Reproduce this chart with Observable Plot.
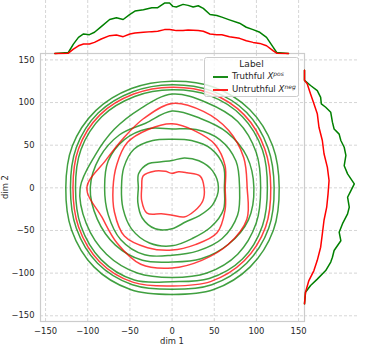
<!DOCTYPE html>
<html><head><meta charset="utf-8">
<script src="https://cdn.jsdelivr.net/npm/d3@7"></script>
<script src="https://cdn.jsdelivr.net/npm/@observablehq/plot@0.6"></script>
<style>
body{margin:0;background:#fff;font-family:"DejaVu Sans",sans-serif;}
#wrap{position:relative;width:366px;height:347px;overflow:hidden;background:#fff;}
#wrap svg{position:absolute;}
.txt{position:absolute;font-size:8.4px;color:#262626;white-space:nowrap;line-height:1;}
#legend{position:absolute;left:204px;top:57px;width:95px;height:40px;box-sizing:border-box;border:1px solid #cccccc;border-radius:2.5px;background:rgba(255,255,255,0.8);}
#legend .sw{position:absolute;left:8px;width:15px;height:2px;}
#legend .et{position:absolute;left:27px;font-size:8.6px;color:#262626;white-space:nowrap;line-height:1;}
#legend sup{font-size:6px;font-style:italic;vertical-align:3px;line-height:0;}
</style></head><body>
<div id="wrap">
  <div id="legend">
    <div class="et" style="left:0;width:93px;text-align:center;top:2px;font-size:9px;">Label</div>
    <div class="sw" style="top:18px;background:#1a8c1a;"></div>
    <div class="et" style="top:14px;">Truthful <i>X</i><sup>pos</sup></div>
    <div class="sw" style="top:31px;background:#ff2020;"></div>
    <div class="et" style="top:27px;">Untruthful <i>X</i><sup>neg</sup></div>
  </div>
</div>
<script>
// ---- data ----
const xTicks = [-150, -100, -50, 0, 50, 100, 150];
const yTicks = [-150, -100, -50, 0, 50, 100, 150];
const xLabel = "dim 1";
const yLabel = "dim 2";
const seriesNames = ["Truthful", "Untruthful"];

// contour rings: radius at each angle (degrees, counter-clockwise from +dim 1)
const angles = [0, 22.5, 45, 67.5, 90, 112.5, 135, 157.5, 180, 202.5, 225, 247.5, 270, 292.5, 315, 337.5];
const truthfulRings = [
  [127, 129, 130, 128, 125, 126, 128, 128, 126, 129, 131, 129, 125, 129, 131, 130],
  [121, 123, 125, 123, 121, 122, 124, 123, 120.5, 123, 125, 123, 119, 123, 125, 124],
  [113, 116, 118, 117, 115, 116, 118, 117, 114.5, 117, 119, 117, 110, 115, 118, 116],
  [105, 108, 110, 108, 110, 100, 97, 99, 109, 110, 110, 108, 105, 108, 110, 108],
  [97, 96, 92, 88, 90, 82, 88, 93, 97, 96, 95, 92, 87, 90, 94, 98],
  [80, 82, 80, 74, 69, 75, 80, 82, 80, 82, 86, 85, 79, 80, 84, 84],
  [62, 66, 65, 60, 57, 60, 64, 62, 60, 63, 68, 70, 68, 64, 65, 66],
  [55, 52, 45, 38, 32, 33, 40, 43, 40, 44, 50, 52, 48, 43, 46, 52]
];
const untruthfulRings = [
  [117, 119, 121, 120, 118, 119, 121, 120, 117.5, 120, 122, 120, 115, 119, 121, 120],
  [89, 92, 95, 97, 99, 88, 82, 85, 101, 90, 92, 97, 94, 92, 94, 96],
  [63, 68, 72, 72, 75, 74, 75, 71, 70, 74, 80, 76, 73, 72, 75, 68],
  [38, 36, 25, 20.5, 17, 21, 28, 37, 36, 39, 42, 33, 32, 37, 38, 39.5]
];

// top marginal density (scaled)
const margX = [-139,-123,-117,-111,-105,-98,-92,-84,-74,-66,-58,-50,-44,-34,-24,-17,-9,-3,1,5,13,19,25,31,37,45,53,59,68,80,88,96,104,112,120,124,138];
const margXTruthful = [0,3,28,48,58,56,63,80,101,106,101,116,126,130,136,136,150,150,140,138,146,143,138,142,134,116,113,108,100,90,78,71,63,48,18,3,0];
const margXUntruthful = [0,1,13,23,28,28,33,43,53,55,50,58,61,63,65,66,71,71,70,68,68,70,69,68,66,58,56,56,50,45,38,33,30,23,8,1,0];

// right marginal density (scaled)
const margYTruthfulY = [138,126,120,114,106,98.5,94.5,88.6,77,69,63,55.5,47.6,38,26,16.4,4.7,-3.2,-11,-22.7,-30.5,-42,-52,-62,-73.5,-81.4,-87,-97,-107,-114.5,-122.4,-136];
const margYTruthful = [0,0,18,38,48,50,63,78,83,88,103,108,118,123,118,128,148,138,128,133,128,113,103,108,88,83,78,63,38,18,3,0];
const margYUntruthfulY = [138,126,122,110,98.5,87,71,55.5,40,24,8.6,-7,-22.7,-38,-54,-69.6,-85,-97,-108.7,-122.4,-136];
const margYUntruthful = [0,0,8,18,28,38,43,53,58,68,73,70,66,58,53,48,38,28,13,3,0];

// ---- build ----
const green = "#008000", red = "#ff0000";
const xDomain = [-156, 157], yDomain = [-156.7, 157.5];
const densMax = 157.5;
const fmt = d => d < 0 ? "\u2212" + Math.abs(d) : String(d);
const gridStyle = {stroke: "#cccccc", strokeOpacity: 1, strokeWidth: 0.8, strokeDasharray: "3,2"};

function ringRows(rings, name) {
  const rows = [];
  rings.forEach((r, i) => r.forEach((rad, j) => {
    const a = angles[j] * Math.PI / 180;
    rows.push({ring: name + i, x: rad * Math.cos(a), y: rad * Math.sin(a)});
  }));
  return rows;
}
const gRows = ringRows(truthfulRings, seriesNames[0]);
const rRows = ringRows(untruthfulRings, seriesNames[1]);

const baseStyle = {background: "transparent", overflow: "visible", fontFamily: "DejaVu Sans, sans-serif", fontSize: "8.4px", color: "#262626"};

const main = Plot.plot({
  width: 366, height: 347,
  marginLeft: 40, marginRight: 62, marginTop: 53, marginBottom: 26,
  style: baseStyle,
  x: {domain: xDomain},
  y: {domain: yDomain},
  marks: [
    Plot.gridX(xTicks, gridStyle),
    Plot.gridY(yTicks, gridStyle),
    Plot.axisX(xTicks, {tickSize: 0, tickPadding: 7, tickFormat: fmt, label: null, fill: "#262626"}),
    Plot.axisY(yTicks, {tickSize: 0, tickPadding: 6, tickFormat: fmt, label: null, fill: "#262626"}),
    Plot.line(gRows, {x: "x", y: "y", z: "ring", stroke: green, strokeOpacity: 0.75, strokeWidth: 1.5, curve: "catmull-rom-closed"}),
    Plot.line(rRows, {x: "x", y: "y", z: "ring", stroke: red, strokeOpacity: 0.75, strokeWidth: 1.5, curve: "catmull-rom-closed"}),
    Plot.frame({stroke: "#cccccc", strokeWidth: 1.2})
  ]
});

const topRows = margX.map((x, i) => ({x, g: margXTruthful[i], r: margXUntruthful[i]}));
const topM = Plot.plot({
  width: 366, height: 53,
  marginLeft: 40, marginRight: 62, marginTop: 0, marginBottom: 0,
  style: baseStyle,
  x: {domain: xDomain, axis: null},
  y: {domain: [0, densMax], axis: null},
  marks: [
    Plot.gridX(xTicks, gridStyle),
    Plot.line(topRows, {x: "x", y: "g", stroke: green, strokeWidth: 1.5}),
    Plot.line(topRows, {x: "x", y: "r", stroke: red, strokeWidth: 1.5})
  ]
});

const rgRows = margYTruthfulY.map((y, i) => ({y, d: margYTruthful[i]}));
const rrRows = margYUntruthfulY.map((y, i) => ({y, d: margYUntruthful[i]}));
const rightM = Plot.plot({
  width: 62, height: 347,
  marginLeft: 0, marginRight: 9, marginTop: 53, marginBottom: 26,
  style: baseStyle,
  x: {domain: [0, densMax], axis: null},
  y: {domain: yDomain, axis: null},
  marks: [
    Plot.gridY(yTicks, gridStyle),
    Plot.line(rgRows, {x: "d", y: "y", stroke: green, strokeWidth: 1.5}),
    Plot.line(rrRows, {x: "d", y: "y", stroke: red, strokeWidth: 1.5})
  ]
});

const wrap = document.getElementById("wrap");
const legend = document.getElementById("legend");
[main, topM, rightM].forEach(s => wrap.insertBefore(s, legend));
main.style.left = "0px"; main.style.top = "0px";
topM.style.left = "0px"; topM.style.top = "0px";
rightM.style.left = "304px"; rightM.style.top = "0px";

const xl = document.createElement("div");
xl.className = "txt"; xl.textContent = xLabel;
xl.style.left = "172px"; xl.style.top = "341px"; xl.style.transform = "translate(-50%,-50%)";
wrap.appendChild(xl);
const yl = document.createElement("div");
yl.className = "txt"; yl.textContent = yLabel;
yl.style.left = "5px"; yl.style.top = "187px"; yl.style.transform = "translate(-50%,-50%) rotate(-90deg)";
wrap.appendChild(yl);
</script>
</body></html>
